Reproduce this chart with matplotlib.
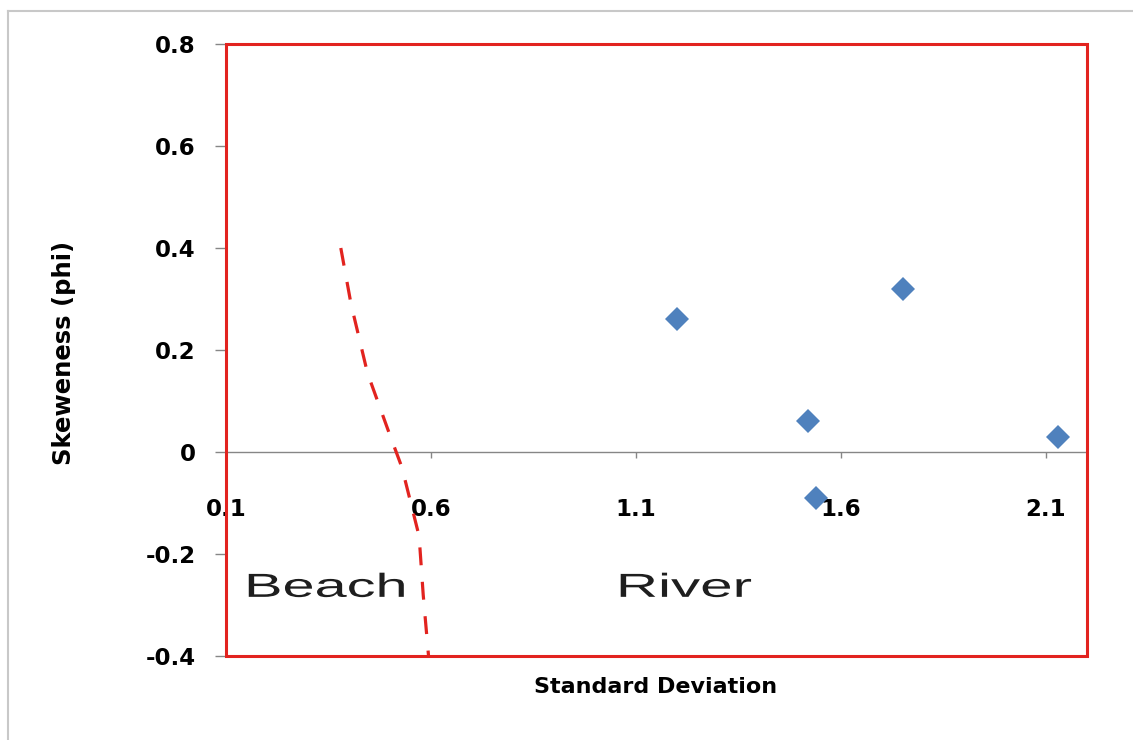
import matplotlib
matplotlib.use("Agg")
import matplotlib.pyplot as plt
from matplotlib.patches import Rectangle
from matplotlib.lines import Line2D
from matplotlib.patheffects import AbstractPathEffect
from matplotlib.transforms import Affine2D

# River samples: standard deviation vs skewness (phi units)
river_sd = [1.20, 1.52, 1.54, 1.75, 2.13]
river_skew = [0.26, 0.06, -0.09, 0.32, 0.03]

# Beach / river discrimination boundary
boundary_sd = [0.38, 0.405, 0.445, 0.498, 0.529, 0.571, 0.581, 0.594]
boundary_skew = [0.40, 0.29, 0.155, 0.037, -0.03, -0.165, -0.28, -0.40]

x_ticks = [0.1, 0.6, 1.1, 1.6, 2.1]
x_ticklabels = ["0.1", "0.6", "1.1", "1.6", "2.1"]
y_ticks = [-0.4, -0.2, 0.0, 0.2, 0.4, 0.6, 0.8]
y_ticklabels = ["-0.4", "-0.2", "0", "0.2", "0.4", "0.6", "0.8"]

RED = "#e2231f"
BLUE = "#4f81bd"
GREY = "#868686"


class Widen(AbstractPathEffect):
    """Stretch glyphs horizontally about the text origin."""

    def __init__(self, factor):
        super().__init__()
        self.factor = factor

    def draw_path(self, renderer, gc, tpath, affine, rgbFace=None):
        renderer.draw_path(gc, tpath, Affine2D().scale(self.factor, 1.0) + affine, rgbFace)


W, H = 1133, 740
fig = plt.figure(figsize=(W / 100, H / 100), dpi=100)
fig.patch.set_facecolor("white")

# outer chart frame
fig.add_artist(Line2D([8 / W, 1.0], [1 - 11 / H, 1 - 11 / H], transform=fig.transFigure,
                      color="#c8c8c8", lw=1.5))
fig.add_artist(Line2D([8 / W, 8 / W], [0.0, 1 - 11 / H], transform=fig.transFigure,
                      color="#c8c8c8", lw=1.5))

left, right, top, bottom = 226, 1087, 44, 656
ax = fig.add_axes([left / W, 1 - bottom / H, (right - left) / W, (bottom - top) / H])
ax.set_xlim(0.1, 2.2)
ax.set_ylim(-0.4, 0.8)

for s in ("left", "right", "top"):
    ax.spines[s].set_visible(False)
ax.spines["bottom"].set_position(("data", 0))
ax.spines["bottom"].set_color(GREY)
ax.spines["bottom"].set_linewidth(1.0)

# red plot-area border
ax.add_patch(Rectangle((0, 0), 1, 1, transform=ax.transAxes, fill=False,
                       edgecolor=RED, lw=2.2, zorder=5, clip_on=False))

ax.set_xticks(x_ticks)
ax.set_xticklabels(x_ticklabels)
ax.set_yticks(y_ticks)
ax.set_yticklabels(y_ticklabels)
ax.tick_params(axis="x", direction="out", length=4, width=1, color=GREY, pad=29,
               labelsize=16.5)
ax.tick_params(axis="y", direction="out", length=8, width=1, color=GREY, pad=14,
               labelsize=16.5)
for lab in ax.get_xticklabels() + ax.get_yticklabels():
    lab.set_fontweight("bold")
    lab.set_family("DejaVu Sans")

ax.plot(boundary_sd, boundary_skew, color=RED, lw=2.3, dashes=(5.6, 5.2), zorder=3)
ax.plot(river_sd, river_skew, linestyle="none", marker="D", markersize=12.5,
        color=BLUE, markeredgewidth=0, zorder=4)

# field labels
ax.text(0.144, -0.284, "Beach", fontsize=24, family="Liberation Sans", color="#1e1e1e",
        ha="left", va="baseline", path_effects=[Widen(1.73)])
ax.text(1.051, -0.284, "River", fontsize=24, family="Liberation Sans", color="#1e1e1e",
        ha="left", va="baseline", path_effects=[Widen(1.75)])

fig.text(656 / W, 1 - 693 / H, "Standard Deviation", fontsize=16, fontweight="bold",
         family="DejaVu Sans", ha="center", va="baseline")
fig.text(64 / W, 1 - 353 / H, "Skeweness (phi)", fontsize=17.5, fontweight="bold",
         family="DejaVu Sans", ha="center", va="center", rotation=90)

fig.savefig("out.png", dpi=100, facecolor="white")
